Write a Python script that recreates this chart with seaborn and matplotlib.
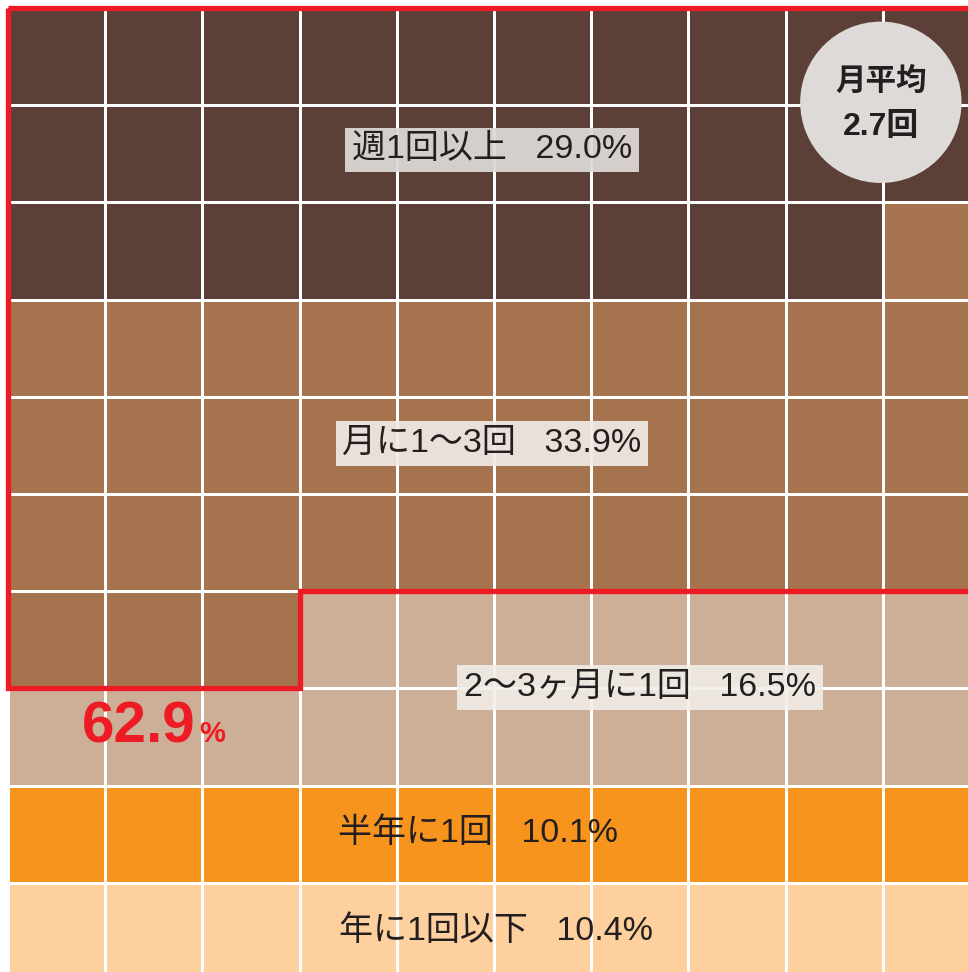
import numpy as np
import matplotlib
matplotlib.use("Agg")
import matplotlib.pyplot as plt
from matplotlib.colors import ListedColormap
from matplotlib.patches import Circle, Polygon
import seaborn as sns

# data
categories = ["週1回以上", "月に1〜3回", "2〜3ヶ月に1回", "半年に1回", "年に1回以下"]
shares = [29.0, 33.9, 16.5, 10.1, 10.4]
cell_counts = [29, 34, 17, 10, 10]
colors = ["#5C4037", "#A5744F", "#CDAE96", "#F7941E", "#FDD09E"]
highlight_share = 62.9
monthly_avg = 2.7

# latin digits from Liberation Sans, kana/kanji from Noto CJK
JP = ["Liberation Sans", "Noto Sans CJK JP", "DejaVu Sans"]
RED = "#ED1C24"

sns.set_theme(style="white")
plt.rcParams["font.family"] = JP

cells = np.repeat(np.arange(len(categories)), cell_counts).reshape(10, 10)

fig = plt.figure(figsize=(9.68, 9.72), dpi=100)
ax = fig.add_axes([8 / 968, -8 / 972, 972 / 968, 972 / 972])
sns.heatmap(cells, cmap=ListedColormap(colors), vmin=-0.5, vmax=len(colors) - 0.5,
            cbar=False, linewidths=2.0, linecolor="white", square=False,
            xticklabels=False, yticklabels=False, ax=ax)
ax.set_xlim(0, 10)
ax.set_ylim(10, 0)

# outline around the first two groups
n_top = cell_counts[0] + cell_counts[1]
full_rows, rest = divmod(n_top, 10)
outline = [(0, 0), (10, 0), (10, full_rows), (rest, full_rows),
           (rest, full_rows + 1), (0, full_rows + 1)]
ax.add_patch(Polygon(outline, closed=True, fill=False, edgecolor=RED,
                     linewidth=3.8, joinstyle="miter", zorder=5, clip_on=False))

# category labels
label_pos = [(4.98, 1.46), (4.98, 4.48), (6.5, 6.99), (4.84, 8.49), (5.02, 9.5)]
boxed = [("#DCD8D5", 0.95), ("#F0EBE6", 0.92), ("#F2EEE9", 0.88), None, None]
for name, val, (x, y), box in zip(categories, shares, label_pos, boxed):
    txt = f"{name}   {val:.1f}%"
    kw = dict(ha="center", va="center", fontsize=24.5, color="#231F20",
              family=JP, zorder=6)
    if box:
        kw["bbox"] = dict(boxstyle="square,pad=0.2", facecolor=box[0],
                          edgecolor="none", alpha=box[1])
    ax.text(x, y, txt, **kw)

# highlight share
ax.text(1.93, 7.4, f"{highlight_share:.1f}", ha="right", va="center", fontsize=42,
        fontweight="bold", color=RED, family=JP, zorder=6)
ax.text(1.97, 7.47, "%", ha="left", va="center", fontsize=21,
        fontweight="bold", color=RED, family=JP, zorder=6)

# monthly average badge
ax.add_patch(Circle((8.98, 0.97), 0.83, facecolor="#DEDAD8", edgecolor="none", zorder=6))
ax.text(8.98, 0.76, "月平均", ha="center", va="center", fontsize=22,
        fontweight="bold", color="#231F20", family=JP, zorder=7)
ax.text(8.98, 1.22, f"{monthly_avg}回", ha="center", va="center", fontsize=23,
        fontweight="bold", color="#231F20", family=JP, zorder=7)

ax.set_axis_off()
fig.savefig("out.png", dpi=100)
